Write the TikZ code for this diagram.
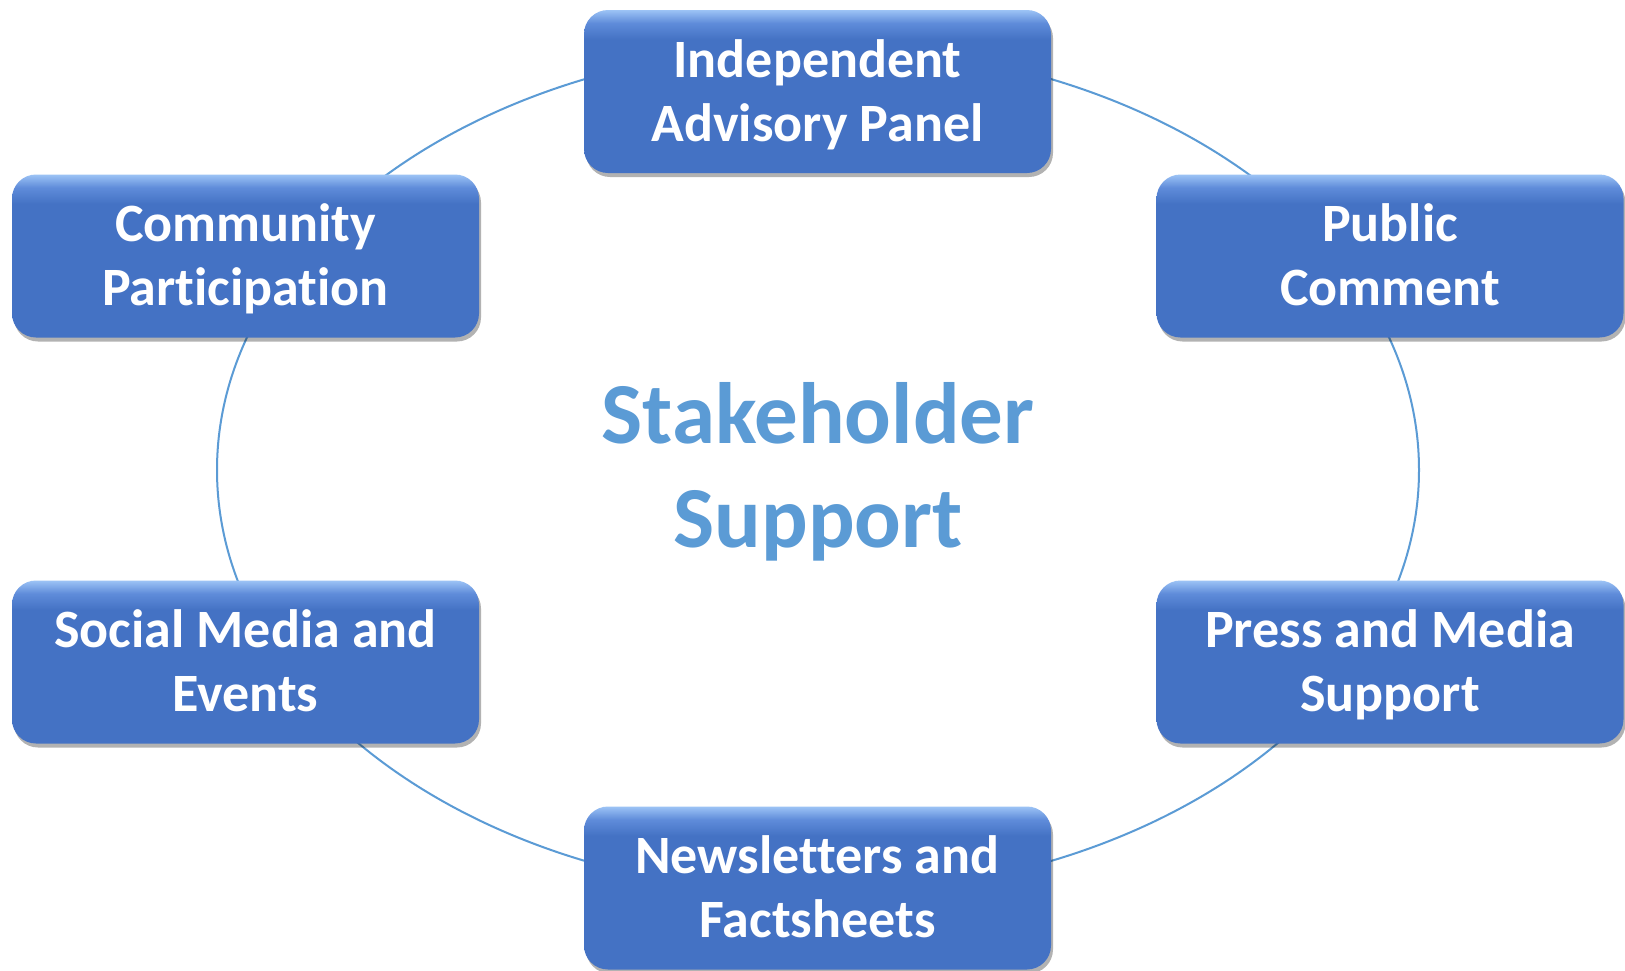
\documentclass[tikz,border=0pt]{standalone}
\usepackage{fontspec}
\setmainfont{Carlito}[RawFeature={-liga}]
\usetikzlibrary{shapes,shadows,calc}

\definecolor{panelblue}{HTML}{4472C4}
\definecolor{panelmid}{HTML}{5F8CDA}
\definecolor{paneltop}{HTML}{9CC3F5}
\definecolor{ringblue}{HTML}{5B9BD5}

\pgfdeclareverticalshading{panelshade}{100bp}{color(0bp)=(panelblue); color(25bp)=(panelblue); color(66bp)=(panelblue); color(71bp)=(panelmid); color(75bp)=(paneltop); color(100bp)=(paneltop)}

\newcommand{\twolines}[2]{\rule{0pt}{52pt}#1\\#2\rule[-17pt]{0pt}{17pt}}

\tikzset{
  panel/.style={rectangle, rounded corners=24pt, shading=panelshade,
    minimum width=467pt, minimum height=163pt, inner sep=0pt,
    align=center, text=white,
    font=\fontsize{54pt}{64pt}\selectfont\bfseries,
    drop shadow={shadow xshift=2pt, shadow yshift=-4pt, opacity=0.3, fill=black}},
  ring/.style={draw=ringblue, line width=2pt},
  hubtext/.style={align=center, text=ringblue, inner sep=0pt,
    font=\fontsize{87pt}{104pt}\selectfont\bfseries}
}

\begin{document}
\begin{tikzpicture}[x=1pt,y=-1pt]
            \fill[white] (0,0) rectangle (1625,970);
            \useasboundingbox (0,0) rectangle (1625,970);
            \coordinate (hub) at (818,470);
            \draw[ring] (hub) ellipse [x radius=601, y radius=424];
            \draw (817.5,91.5) node[panel] (iap) {\twolines{Independent}{Advisory Panel}};
            \draw (1390,256) node[panel] (pc) {\twolines{Public}{Comment}};
            \draw (1390,662) node[panel] (pms) {\twolines{Press and Media}{Support}};
            \draw (817.5,888) node[panel] (nf) {\twolines{Newsletters and}{Factsheets}};
            \draw (245.5,662) node[panel] (sme) {\twolines{Social Media and}{Events}};
            \draw (245.5,256) node[panel] (cp) {\twolines{Community}{Participation}};
            \node[hubtext] (ss) at (hub) {\rule{0pt}{72pt}Stakeholder\\Support\rule[-22pt]{0pt}{22pt}};
        \end{tikzpicture}
\end{document}
